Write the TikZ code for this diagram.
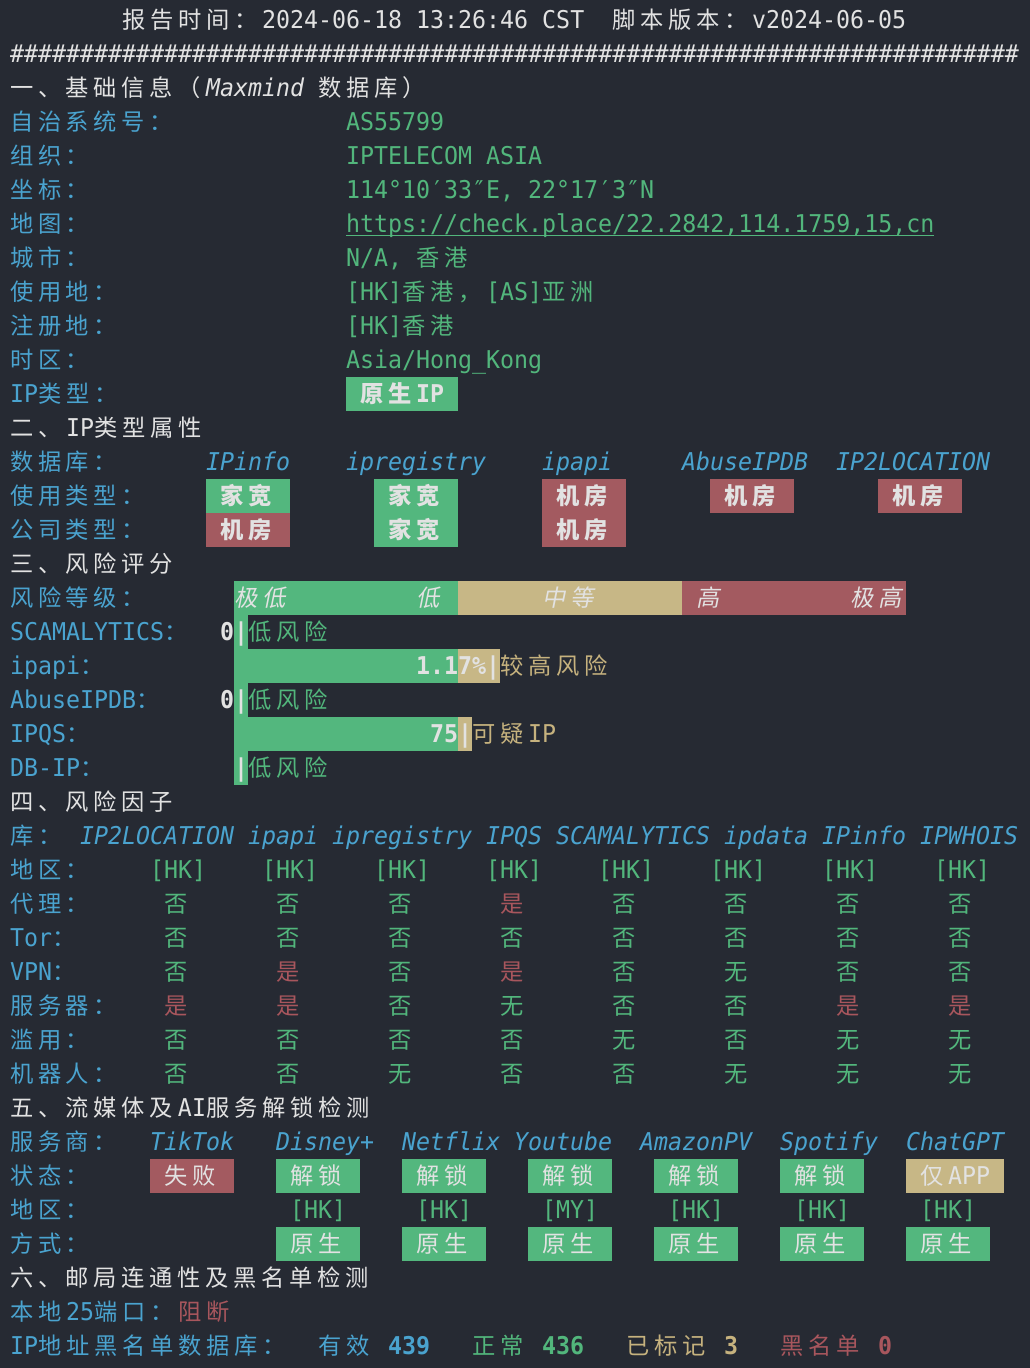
\documentclass[tikz,border=0pt]{standalone}
\usepackage{fontspec}
\newfontfamily\monof{DejaVu Sans Mono}[FakeStretch=0.95]
\newfontfamily\cjkf{Noto Sans CJK SC}[Scale=0.95,ItalicFont={Noto Sans CJK SC},ItalicFeatures={FakeSlant=0.2}]
\definecolor{bg}{HTML}{262A33}
\definecolor{cwhite}{HTML}{E2E2E2}
\definecolor{cblue}{HTML}{4AA3CF}
\definecolor{cgreen}{HTML}{52B67C}
\definecolor{cred}{HTML}{A8565D}
\definecolor{ctan}{HTML}{C6B27E}
\definecolor{gbox}{HTML}{53B77E}
\definecolor{rbox}{HTML}{A35A60}
\definecolor{tbox}{HTML}{C7B786}
\ExplSyntaxOn
\cs_new:Npn \tm_ch:N #1
  { \int_compare:nNnTF { `#1 } > { "2E7F } { \makebox[28pt][l]{\cjkf #1} } { #1 } }
\NewDocumentCommand \T { m } { \tl_map_function:nN {#1} \tm_ch:N }
\cs_new:Npn \hashes { \prg_replicate:nn {72} {\#} }
\ExplSyntaxOff
\newcommand\tx[4]{\node[#3] (n#1x#2) at (10+14*#2,-34*#1-28) {\T{#4}};}
\newcommand\bx[4]{\fill[#4] (10+14*#2,-34*#1-2.5) rectangle (10+14*#3,-34*#1-36.5);}
\newcommand\celln[2]{\tx{#1}{#2}{val}{否}}
\newcommand\celly[2]{\tx{#1}{#2}{redt}{是}}
\newcommand\cellw[2]{\tx{#1}{#2}{val}{无}}
\newcommand\cellv[3]{\csname cell#3\endcsname{#1}{#2}}
\newcommand\tabrow[9]{\cellv{#1}{11}{#2}\cellv{#1}{19}{#3}\cellv{#1}{27}{#4}\cellv{#1}{35}{#5}\cellv{#1}{43}{#6}\cellv{#1}{51}{#7}\cellv{#1}{59}{#8}\cellv{#1}{67}{#9}}
\tikzset{
  base/.style={anchor=base west,inner sep=0pt,outer sep=0pt,font=\monof\fontsize{24.5}{34}\selectfont},
  basei/.style={base,font=\monof\fontsize{24.5}{34}\selectfont\itshape},
  baseb/.style={base,font=\monof\fontsize{24.5}{34}\selectfont\bfseries},
  wh/.style={base,text=cwhite},
  whi/.style={basei,text=cwhite},
  lab/.style={base,text=cblue},
  labi/.style={basei,text=cblue},
  labb/.style={baseb,text=cblue},
  val/.style={base,text=cgreen},
  valb/.style={baseb,text=cgreen},
  redt/.style={base,text=cred},
  redb/.style={baseb,text=cred},
  tant/.style={base,text=ctan},
  tanb/.style={baseb,text=ctan},
  boxt/.style={base,text=cwhite},
  boxb/.style={baseb,text=cwhite},
  bari/.style={basei,text=cwhite},
}
\begin{document}
\begin{tikzpicture}[x=1pt,y=1pt]
\fill[bg] (0,0) rectangle (1030,-1368);
\useasboundingbox (0,0) rectangle (1030,-1368);
% header
\tx{0}{8}{wh}{报告时间：2024-06-18~13:26:46~CST}
\tx{0}{43}{wh}{脚本版本：v2024-06-05}
\node[wh] (hashes) at (10,-62) {\hashes};
% section 1
\tx{2}{0}{wh}{一、基础信息（}
\tx{2}{14}{whi}{Maxmind}
\tx{2}{22}{wh}{数据库）}
\tx{3}{0}{lab}{自治系统号：}\tx{3}{24}{val}{AS55799}
\tx{4}{0}{lab}{组织：}\tx{4}{24}{val}{IPTELECOM~ASIA}
\tx{5}{0}{lab}{坐标：}\tx{5}{24}{val}{114°10′33″E,~22°17′3″N}
\tx{6}{0}{lab}{地图：}\tx{6}{24}{val}{https://check.place/22.2842,114.1759,15,cn}
\draw[cgreen,line width=1.5pt] (n6x24.base west) ++(0,-3.5) -- ++(588,0);
\tx{7}{0}{lab}{城市：}\tx{7}{24}{val}{N/A,~香港}
\tx{8}{0}{lab}{使用地：}\tx{8}{24}{val}{[HK]香港，[AS]亚洲}
\tx{9}{0}{lab}{注册地：}\tx{9}{24}{val}{[HK]香港}
\tx{10}{0}{lab}{时区：}
\node[val] (n10x24) at (10+14*24,-34*10-28) {Asia/Hong\char"5F Kong};
\tx{11}{0}{lab}{IP类型：}
\bx{11}{24}{32}{gbox}\tx{11}{25}{boxb}{原生IP}
% section 2
\tx{12}{0}{wh}{二、IP类型属性}
\tx{13}{0}{lab}{数据库：}
\tx{13}{14}{labi}{IPinfo}\tx{13}{24}{labi}{ipregistry}\tx{13}{38}{labi}{ipapi}\tx{13}{48}{labi}{AbuseIPDB}\tx{13}{59}{labi}{IP2LOCATION}
\tx{14}{0}{lab}{使用类型：}
\bx{14}{14}{20}{gbox}\tx{14}{15}{boxb}{家宽}
\bx{14}{26}{32}{gbox}\tx{14}{27}{boxb}{家宽}
\bx{14}{38}{44}{rbox}\tx{14}{39}{boxb}{机房}
\bx{14}{50}{56}{rbox}\tx{14}{51}{boxb}{机房}
\bx{14}{62}{68}{rbox}\tx{14}{63}{boxb}{机房}
\tx{15}{0}{lab}{公司类型：}
\bx{15}{14}{20}{rbox}\tx{15}{15}{boxb}{机房}
\bx{15}{26}{32}{gbox}\tx{15}{27}{boxb}{家宽}
\bx{15}{38}{44}{rbox}\tx{15}{39}{boxb}{机房}
% section 3
\tx{16}{0}{wh}{三、风险评分}
\tx{17}{0}{lab}{风险等级：}
\bx{17}{16}{32}{gbox}\bx{17}{32}{48}{tbox}\bx{17}{48}{64}{rbox}
\fill[gbox] (234,-34*17-2.5) rectangle (248,-34*22-36.5);
\bx{19}{16}{32}{gbox}\bx{19}{32}{35}{tbox}
\bx{21}{16}{32}{gbox}\bx{21}{32}{33}{tbox}
\tx{17}{16}{bari}{极低}\tx{17}{29}{bari}{低}\tx{17}{38}{bari}{中等}\tx{17}{49}{bari}{高}\tx{17}{60}{bari}{极高}
\tx{18}{0}{lab}{SCAMALYTICS：}\tx{18}{15}{boxb}{0}\tx{18}{16}{boxb}{|}\tx{18}{17}{val}{低风险}
\tx{19}{0}{lab}{ipapi：}\tx{19}{29}{boxb}{1.17\%|}\tx{19}{35}{tant}{较高风险}
\tx{20}{0}{lab}{AbuseIPDB：}\tx{20}{15}{boxb}{0}\tx{20}{16}{boxb}{|}\tx{20}{17}{val}{低风险}
\tx{21}{0}{lab}{IPQS：}\tx{21}{30}{boxb}{75|}\tx{21}{33}{tant}{可疑IP}
\tx{22}{0}{lab}{DB-IP：}\tx{22}{16}{boxb}{|}\tx{22}{17}{val}{低风险}
% section 4
\tx{23}{0}{wh}{四、风险因子}
\tx{24}{0}{lab}{库：}
\tx{24}{5}{labi}{IP2LOCATION}\tx{24}{17}{labi}{ipapi}\tx{24}{23}{labi}{ipregistry}\tx{24}{34}{labi}{IPQS}\tx{24}{39}{labi}{SCAMALYTICS}\tx{24}{51}{labi}{ipdata}\tx{24}{58}{labi}{IPinfo}\tx{24}{65}{labi}{IPWHOIS}
\tx{25}{0}{lab}{地区：}
\foreach \c in {10,18,26,34,42,50,58,66}{\tx{25}{\c}{val}{[HK]}}
\tx{26}{0}{lab}{代理：}\tabrow{26}{n}{n}{n}{y}{n}{n}{n}{n}
\tx{27}{0}{lab}{Tor：}\tabrow{27}{n}{n}{n}{n}{n}{n}{n}{n}
\tx{28}{0}{lab}{VPN：}\tabrow{28}{n}{y}{n}{y}{n}{w}{n}{n}
\tx{29}{0}{lab}{服务器：}\tabrow{29}{y}{y}{n}{w}{n}{n}{y}{y}
\tx{30}{0}{lab}{滥用：}\tabrow{30}{n}{n}{n}{n}{w}{n}{w}{w}
\tx{31}{0}{lab}{机器人：}\tabrow{31}{n}{n}{w}{n}{n}{w}{w}{w}
% section 5
\tx{32}{0}{wh}{五、流媒体及AI服务解锁检测}
\tx{33}{0}{lab}{服务商：}
\tx{33}{10}{labi}{TikTok}\tx{33}{19}{labi}{Disney+}\tx{33}{28}{labi}{Netflix}\tx{33}{36}{labi}{Youtube}\tx{33}{45}{labi}{AmazonPV}\tx{33}{55}{labi}{Spotify}\tx{33}{64}{labi}{ChatGPT}
\tx{34}{0}{lab}{状态：}
\bx{34}{10}{16}{rbox}\tx{34}{11}{boxt}{失败}
\bx{34}{19}{25}{gbox}\tx{34}{20}{boxt}{解锁}
\bx{34}{28}{34}{gbox}\tx{34}{29}{boxt}{解锁}
\bx{34}{37}{43}{gbox}\tx{34}{38}{boxt}{解锁}
\bx{34}{46}{52}{gbox}\tx{34}{47}{boxt}{解锁}
\bx{34}{55}{61}{gbox}\tx{34}{56}{boxt}{解锁}
\bx{34}{64}{71}{tbox}\tx{34}{65}{boxt}{仅APP}
\tx{35}{0}{lab}{地区：}
\tx{35}{20}{val}{[HK]}\tx{35}{29}{val}{[HK]}\tx{35}{38}{val}{[MY]}\tx{35}{47}{val}{[HK]}\tx{35}{56}{val}{[HK]}\tx{35}{65}{val}{[HK]}
\tx{36}{0}{lab}{方式：}
\foreach \c [evaluate=\c as \d using int(\c+1), evaluate=\c as \e using int(\c+6)] in {19,28,37,46,55,64}{\bx{36}{\c}{\e}{gbox}\tx{36}{\d}{boxt}{原生}}
% section 6
\tx{37}{0}{wh}{六、邮局连通性及黑名单检测}
\tx{38}{0}{lab}{本地25端口：}\tx{38}{12}{redt}{阻断}
\tx{39}{0}{lab}{IP地址黑名单数据库：}
\tx{39}{22}{lab}{有效}\tx{39}{27}{labb}{439}
\tx{39}{33}{val}{正常}\tx{39}{38}{valb}{436}
\tx{39}{44}{tant}{已标记}\tx{39}{51}{tanb}{3}
\tx{39}{55}{redt}{黑名单}\tx{39}{62}{redb}{0}
\end{tikzpicture}
\end{document}
